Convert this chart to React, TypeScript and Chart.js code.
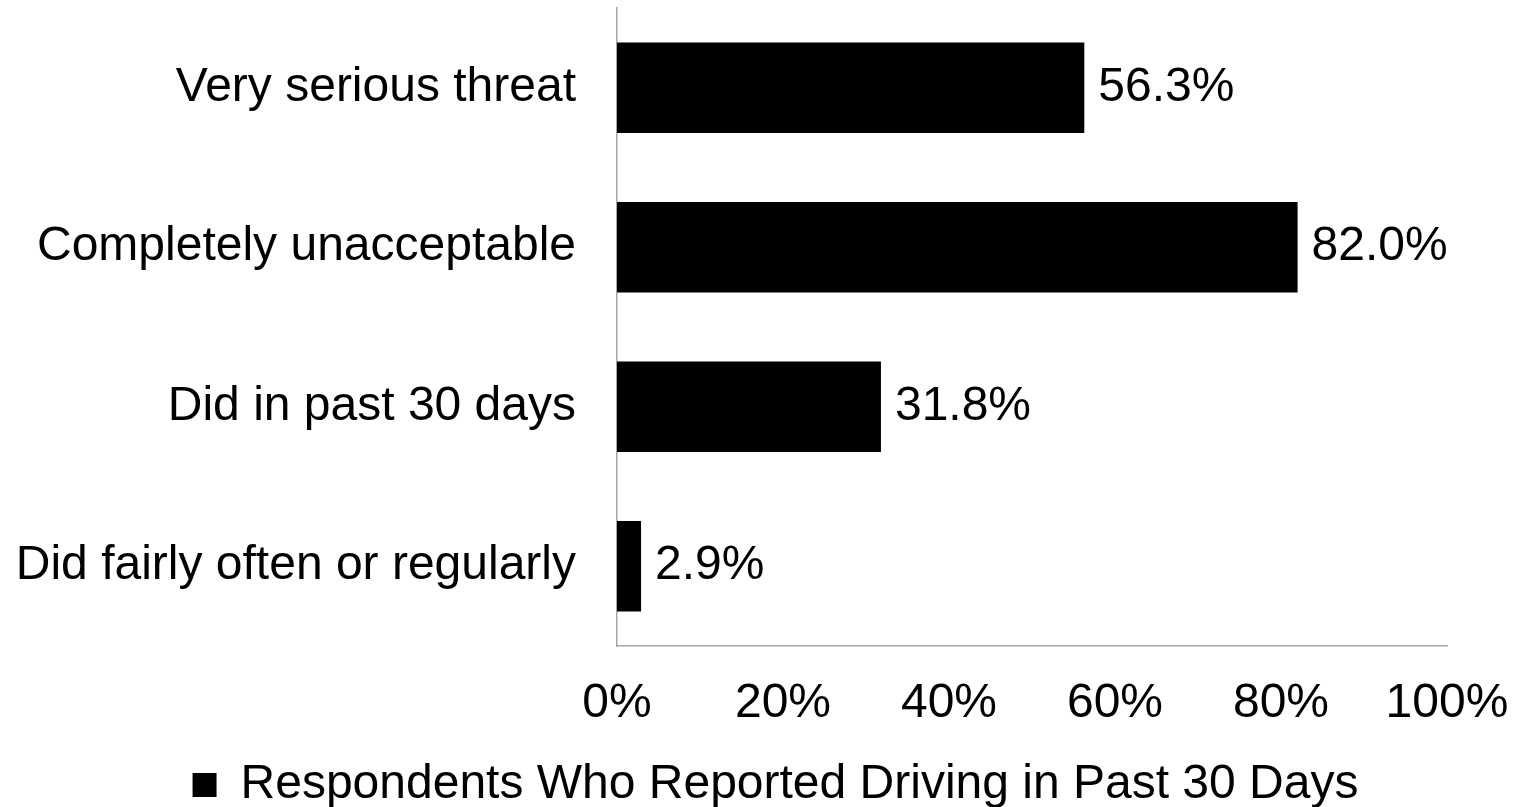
import React, { useEffect, useRef } from 'react';
import { Chart, registerables } from 'chart.js';

Chart.register(...registerables);

const categories = [
  'Very serious threat',
  'Completely unacceptable',
  'Did in past 30 days',
  'Did fairly often or regularly',
];
const values = [56.3, 82.0, 31.8, 2.9];
const seriesName = 'Respondents Who Reported Driving in Past 30 Days';
const xTicks = [0, 20, 40, 60, 80, 100];

const FONT = "'Liberation Sans', Arial, sans-serif";

export default function App() {
  const ref = useRef<HTMLCanvasElement>(null);

  useEffect(() => {
    if (!ref.current) return;
    const labelPlugin = {
      id: 'valueLabels',
      afterDatasetsDraw(chart: any) {
        const ctx = chart.ctx;
        const meta = chart.getDatasetMeta(0);
        ctx.save();
        ctx.font = `48px ${FONT}`;
        ctx.fillStyle = '#000';
        ctx.textAlign = 'left';
        ctx.textBaseline = 'middle';
        meta.data.forEach((bar: any, i: number) => {
          ctx.fillText(values[i].toFixed(1) + '%', bar.x + 14, bar.y);
        });
        ctx.restore();
      },
    };
    const legendShift = {
      id: 'legendShift',
      afterLayout(chart: any) {
        if (chart.legend) {
          chart.legend.left += 17;
          chart.legend.right += 17;
        }
      },
    };

    const chart = new Chart(ref.current, {
      type: 'bar',
      data: {
        labels: categories,
        datasets: [
          {
            label: seriesName,
            data: values,
            backgroundColor: '#000',
            borderWidth: 0,
            barPercentage: 0.567,
            categoryPercentage: 1,
          },
        ],
      },
      options: {
        indexAxis: 'y',
        responsive: false,
        animation: false,
        layout: { padding: { left: 0, right: 0, top: 8, bottom: 0 } },
        plugins: {
          legend: {
            position: 'bottom',
            labels: {
              boxWidth: 24,
              boxHeight: 24,
              padding: 10,
              color: '#000',
              font: { size: 48, family: FONT },
            },
          },
          tooltip: { enabled: false },
        },
        scales: {
          x: {
            min: 0,
            max: 100,
            afterBuildTicks: (s: any) => {
              s.ticks = xTicks.map((v) => ({ value: v }));
            },
            afterFit: (s: any) => {
              s.height = 105;
              s.paddingLeft = 0;
              s.paddingRight = 70;
            },
            grid: { display: false, drawTicks: false },
            border: { display: true, color: '#a6a6a6', width: 1.5 },
            ticks: {
              callback: (v: any) => v + '%',
              color: '#000',
              padding: 29,
              maxRotation: 0,
              minRotation: 0,
              autoSkip: false,
              font: { size: 48, family: FONT },
            },
          },
          y: {
            afterFit: (s: any) => {
              s.width = 617;
              s.paddingTop = 0;
              s.paddingBottom = 0;
            },
            grid: { display: false, drawTicks: false },
            border: { display: true, color: '#a6a6a6', width: 1.5 },
            ticks: {
              color: '#000',
              padding: 41,
              autoSkip: false,
              font: { size: 48, family: FONT },
            },
          },
        },
      },
      plugins: [labelPlugin, legendShift],
    } as any);

    return () => chart.destroy();
  }, []);

  return (
    <div
      style={{
        position: 'absolute',
        left: 0,
        top: 0,
        width: 1517,
        height: 807,
        overflow: 'hidden',
        background: '#fff',
      }}
    >
      <canvas ref={ref} width={1517} height={819} style={{ display: 'block' }} />
    </div>
  );
}
